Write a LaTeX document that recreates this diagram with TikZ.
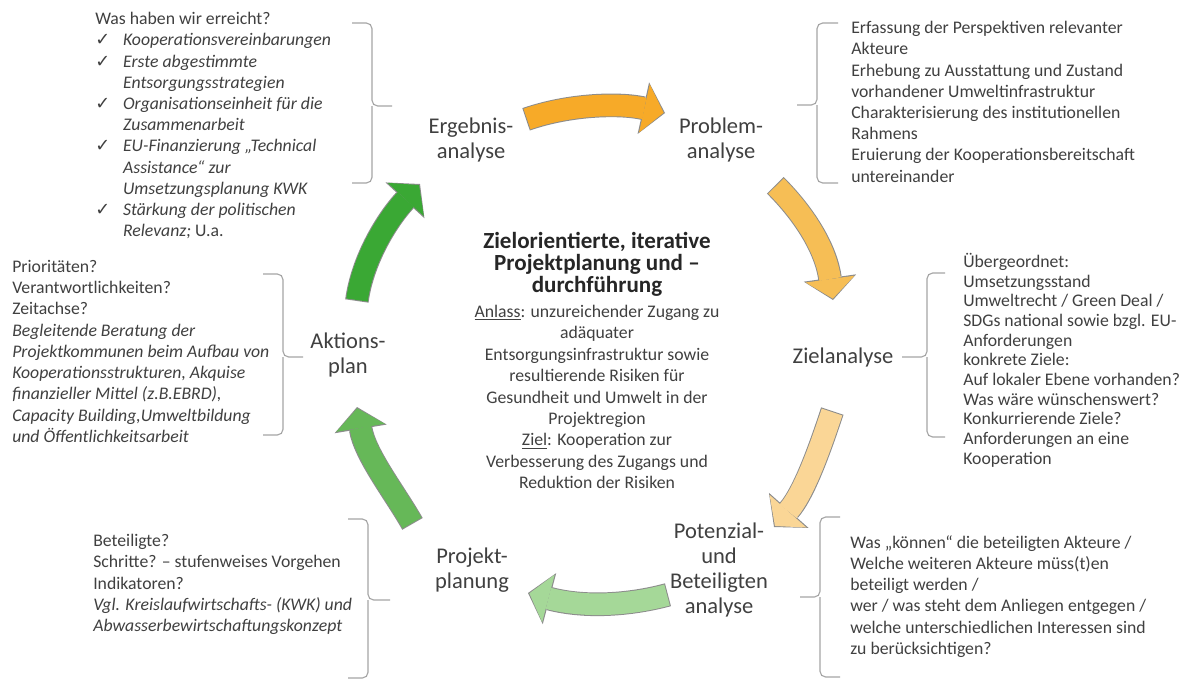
\documentclass[tikz,border=0pt]{standalone}
\usepackage{fontspec}
\setmainfont{Carlito}
\newfontfamily\symb{DejaVu Sans}
\usetikzlibrary{arrows.meta}
\definecolor{textgrau}{RGB}{64,64,64}
\definecolor{klammergrau}{RGB}{165,165,165}
\definecolor{randgrau}{RGB}{140,140,140}
\definecolor{orangeA}{RGB}{247,170,40}
\definecolor{orangeB}{RGB}{246,190,85}
\definecolor{orangeC}{RGB}{250,214,150}
\definecolor{gruenA}{RGB}{165,216,152}
\definecolor{gruenB}{RGB}{102,184,88}
\definecolor{gruenC}{RGB}{58,168,52}
\newcommand{\haken}{\makebox[1.57em][l]{\symb ✓}}
\newcommand{\einr}{\hspace*{1.57em}}

\begin{document}
\begin{tikzpicture}[
  x=0.025cm, y=-0.025cm,
  textblock/.style={align=left, inner sep=0pt, anchor=north west,
               font=\fontsize{12.6}{15.1}\selectfont, text=textgrau},
  phase/.style={align=center, inner sep=0pt,
               font=\fontsize{16}{17.6}\selectfont, text=textgrau},
  klammer/.style={draw=klammergrau, line width=0.8pt, rounded corners=4},
  pfeil/.style={draw=#1, line width=15.4pt, shorten >=1pt,
               -{Triangle[length=14pt, width=35pt, line width=0pt]},
               preaction={draw=randgrau, line width=16.8pt, shorten >=0pt, shorten <=-0.7pt,
               -{Triangle[length=15.8pt, width=37.6pt, line width=0pt]}}}
]
  \useasboundingbox[fill=white] (0,0) rectangle (1188,679);

  % Pfeile im Kreis
  \coordinate (a1s) at (527,119);  \coordinate (a1e) at (665,113);
  \coordinate (a2s) at (776,186);  \coordinate (a2e) at (833,300);
  \coordinate (a3s) at (832,412);  \coordinate (a3e) at (774,527);
  \coordinate (a4s) at (667,595);  \coordinate (a4e) at (528,593);
  \coordinate (a5s) at (412,523);  \coordinate (a5e) at (357,407);
  \coordinate (a6s) at (357,300);  \coordinate (a6e) at (420,184);

  \draw[pfeil=orangeA] (a1s) .. controls (570,104) and (620,103) .. (a1e);
  \draw[pfeil=orangeB] (a2s) .. controls (806,216) and (826,250) .. (a2e);
  \draw[pfeil=orangeC] (a3s) .. controls (822,442) and (805,492) .. (a3e);
  \draw[pfeil=gruenA] (a4s) .. controls (630,605) and (585,608) .. (a4e);
  \draw[pfeil=gruenB] (a5s) .. controls (395,493) and (365,455) .. (a5e);
  \draw[pfeil=gruenC] (a6s) .. controls (362,262) and (385,222) .. (a6e);

  % Klammern
  \foreach \xe/\xv/\xs/\yo/\ym/\yu in {352/372/392/23/106/183, 838/817/797/23/105/183,
      945/927/902/273/357/437, 840/820/800/517/597/677, 348/368/390/519/600/678,
      263/283/303/274/357/435}
    \draw[klammer] (\xe,\yo) -- (\xv,\yo) -- (\xv,\ym) -- (\xs,\ym)
                   (\xe,\yu) -- (\xv,\yu) -- (\xv,\ym);

  % Phasen
  \node[phase] (ergebnis) at (471,140) {Ergebnis-\\analyse};
  \node[phase] (problem) at (721,140) {Problem-\\analyse};
  \node[phase] (ziel) at (843,357) {Zielanalyse};
  \node[phase] (potenzial) at (719,570) {Potenzial-\\und\\Beteiligten\\analyse};
  \node[phase] (projekt) at (472,570) {Projekt-\\planung};
  \node[phase] (aktion) at (348,355) {Aktions-\\plan};

  % Mitte
  \node[align=center, inner sep=0pt, font=\bfseries\fontsize{16.4}{15.6}\selectfont,
        text=black!85] (titel) at (597,264)
    {Zielorientierte, iterative\\Projektplanung und –\\durchführung};
  \node[align=center, inner sep=0pt, font=\fontsize{12.6}{15.2}\selectfont,
        text=textgrau] (anlass) at (597,397)
    {\underline{Anlass}: unzureichender Zugang zu\\adäquater\\Entsorgungsinfrastruktur sowie\\
     resultierende Risiken für\\Gesundheit und Umwelt in der\\Projektregion\\
     \underline{Ziel}: Kooperation zur\\Verbesserung des Zugangs und\\Reduktion der Risiken};

  % Texte an den Klammern
  \node[textblock] (erreicht) at (95,12)
    {Was haben wir erreicht?\\
     \haken\textit{Kooperationsvereinbarungen}\\
     \haken\textit{Erste abgestimmte}\\
     \einr\textit{Entsorgungsstrategien}\\
     \haken\textit{Organisationseinheit für die}\\
     \einr\textit{Zusammenarbeit}\\
     \haken\textit{EU-Finanzierung „Technical}\\
     \einr\textit{Assistance“ zur}\\
     \einr\textit{Umsetzungsplanung KWK}\\
     \haken\textit{Stärkung der politischen}\\
     \einr\textit{Relevanz;} U.a.};
  \node[textblock] (erfassung) at (851,21)
    {Erfassung der Perspektiven relevanter\\Akteure\\
     Erhebung zu Ausstattung und Zustand\\vorhandener Umweltinfrastruktur\\
     Charakterisierung des institutionellen\\Rahmens\\
     Eruierung der Kooperationsbereitschaft\\untereinander};
  \node[textblock, font=\fontsize{12.6}{14}\selectfont] (ziele) at (963,253)
    {Übergeordnet:\\Umsetzungsstand\\Umweltrecht / Green Deal /\\
     SDGs national sowie bzgl. EU-\\Anforderungen\\konkrete Ziele:\\
     Auf lokaler Ebene vorhanden?\\Was wäre wünschenswert?\\
     Konkurrierende Ziele?\\Anforderungen an eine\\Kooperation};
  \node[textblock] (akteure) at (850,535)
    {Was „können“ die beteiligten Akteure /\\
     Welche weiteren Akteure müss(t)en\\beteiligt werden /\\
     wer / was steht dem Anliegen entgegen /\\
     welche unterschiedlichen Interessen sind\\zu berücksichtigen?};
  \node[textblock] (beteiligte) at (93,534)
    {Beteiligte?\\Schritte? – stufenweises Vorgehen\\Indikatoren?\\
     \textit{Vgl. Kreislaufwirtschafts- (KWK) und}\\
     \textit{Abwasserbewirtschaftungskonzept}};
  \node[textblock] (prioritaeten) at (12,260)
    {Prioritäten?\\Verantwortlichkeiten?\\Zeitachse?\\
     \textit{Begleitende Beratung der}\\
     \textit{Projektkommunen beim Aufbau von}\\
     \textit{Kooperationsstrukturen, Akquise}\\
     \textit{finanzieller Mittel (z.B.EBRD),}\\
     \textit{Capacity Building,Umweltbildung}\\
     \textit{und Öffentlichkeitsarbeit}};
\end{tikzpicture}
\end{document}
